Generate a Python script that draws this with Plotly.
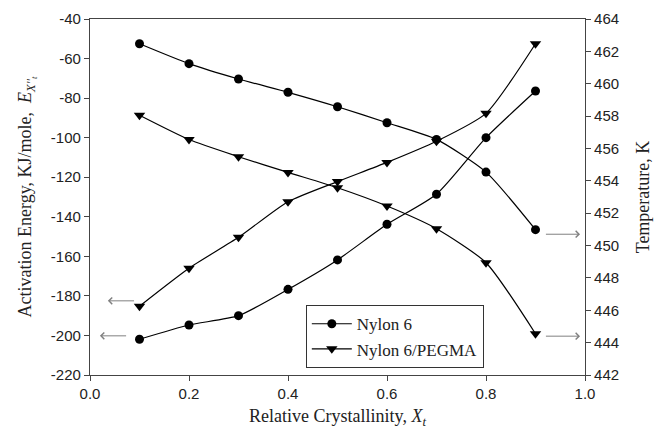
import plotly.graph_objects as go

xt = [0.1, 0.2, 0.3, 0.4, 0.5, 0.6, 0.7, 0.8, 0.9]
e_nylon6 = [-201.9, -194.7, -190.0, -176.7, -161.8, -143.8, -128.6, -100.0, -76.4]
e_pegma = [-185.2, -166.0, -150.4, -132.4, -122.2, -112.5, -101.8, -87.7, -52.5]
t_nylon6 = [462.47, 461.24, 460.29, 459.47, 458.58, 457.59, 456.56, 454.54, 450.98]
t_pegma = [458.05, 456.55, 455.49, 454.52, 453.57, 452.44, 451.04, 448.94, 444.55]

y_ticks = [-40, -60, -80, -100, -120, -140, -160, -180, -200, -220]
t_ticks = [442, 444, 446, 448, 450, 452, 454, 456, 458, 460, 462, 464]
x_ticks = [0.0, 0.2, 0.4, 0.6, 0.8, 1.0]

serif = "Liberation Serif, Times New Roman, serif"
sans = "Liberation Sans, Arial, sans-serif"

fig = go.Figure()
line = dict(color="black", width=1.2, shape="spline", smoothing=0.6)
fig.add_trace(go.Scatter(x=xt, y=e_nylon6, mode="lines+markers", name="Nylon 6",
                         legendgroup="n6", line=line,
                         marker=dict(symbol="circle", size=9, color="black")))
fig.add_trace(go.Scatter(x=xt, y=e_pegma, mode="lines+markers", name="Nylon 6/PEGMA",
                         legendgroup="np", line=line,
                         marker=dict(symbol="triangle-down", size=10, color="black")))
fig.add_trace(go.Scatter(x=xt, y=t_nylon6, mode="lines+markers", name="Nylon 6",
                         legendgroup="n6", showlegend=False, yaxis="y2", line=line,
                         marker=dict(symbol="circle", size=9, color="black")))
fig.add_trace(go.Scatter(x=xt, y=t_pegma, mode="lines+markers", name="Nylon 6/PEGMA",
                         legendgroup="np", showlegend=False, yaxis="y2", line=line,
                         marker=dict(symbol="triangle-down", size=10, color="black")))

arrow_kw = dict(showarrow=True, arrowhead=4, arrowsize=1.3, arrowwidth=1,
                arrowcolor="#808080", text="")
# left-pointing arrows (activation energy axis)
fig.add_annotation(x=0.036, y=-182.5, ax=0.092, ay=-182.5, xref="x", yref="y",
                   axref="x", ayref="y", **arrow_kw)
fig.add_annotation(x=0.02, y=-200.2, ax=0.076, ay=-200.2, xref="x", yref="y",
                   axref="x", ayref="y", **arrow_kw)
# right-pointing arrows (temperature axis)
fig.add_annotation(x=0.99, y=450.7, ax=0.918, ay=450.7, xref="x", yref="y2",
                   axref="x", ayref="y2", **arrow_kw)
fig.add_annotation(x=0.99, y=444.4, ax=0.918, ay=444.4, xref="x", yref="y2",
                   axref="x", ayref="y2", **arrow_kw)

axis_common = dict(showgrid=False, zeroline=False, showline=True, linecolor="#444",
                   linewidth=1.2, ticks="outside", ticklen=5, tickcolor="#444",
                   automargin=False,
                   tickfont=dict(family=sans, size=15, color="#222"))

fig.update_layout(
    width=660, height=436,
    margin=dict(l=90, r=75, t=19, b=61),
    paper_bgcolor="white", plot_bgcolor="white",
    showlegend=True,
    legend=dict(x=0.436, y=0.196, xanchor="left", yanchor="top",
                bordercolor="#333", borderwidth=1, bgcolor="white",
                font=dict(family=serif, size=17, color="#222"),
                itemwidth=40, tracegroupgap=0),
    xaxis=dict(range=[0, 1], tickvals=x_ticks, ticktext=[f"{v:.1f}" for v in x_ticks],
               mirror=True,
               title=dict(text="Relative Crystallinity, <i>X<sub>t</sub></i>",
                          font=dict(family=serif, size=18, color="#222"), standoff=8),
               **axis_common),
    yaxis=dict(range=[-220, -40], tickvals=y_ticks, ticktext=[str(v) for v in y_ticks],
               title=dict(text="Activation Energy, KJ/mole,  <i>E<sub>X''<sub>t</sub></sub></i>",
                          font=dict(family=serif, size=18, color="#222"), standoff=14),
               **axis_common),
    yaxis2=dict(range=[442, 464], tickvals=t_ticks, ticktext=[str(v) for v in t_ticks],
                overlaying="y", side="right",
                title=dict(text="Temperature, K",
                           font=dict(family=serif, size=18, color="#222"), standoff=18),
                **axis_common),
)

fig.write_html("out.html")
